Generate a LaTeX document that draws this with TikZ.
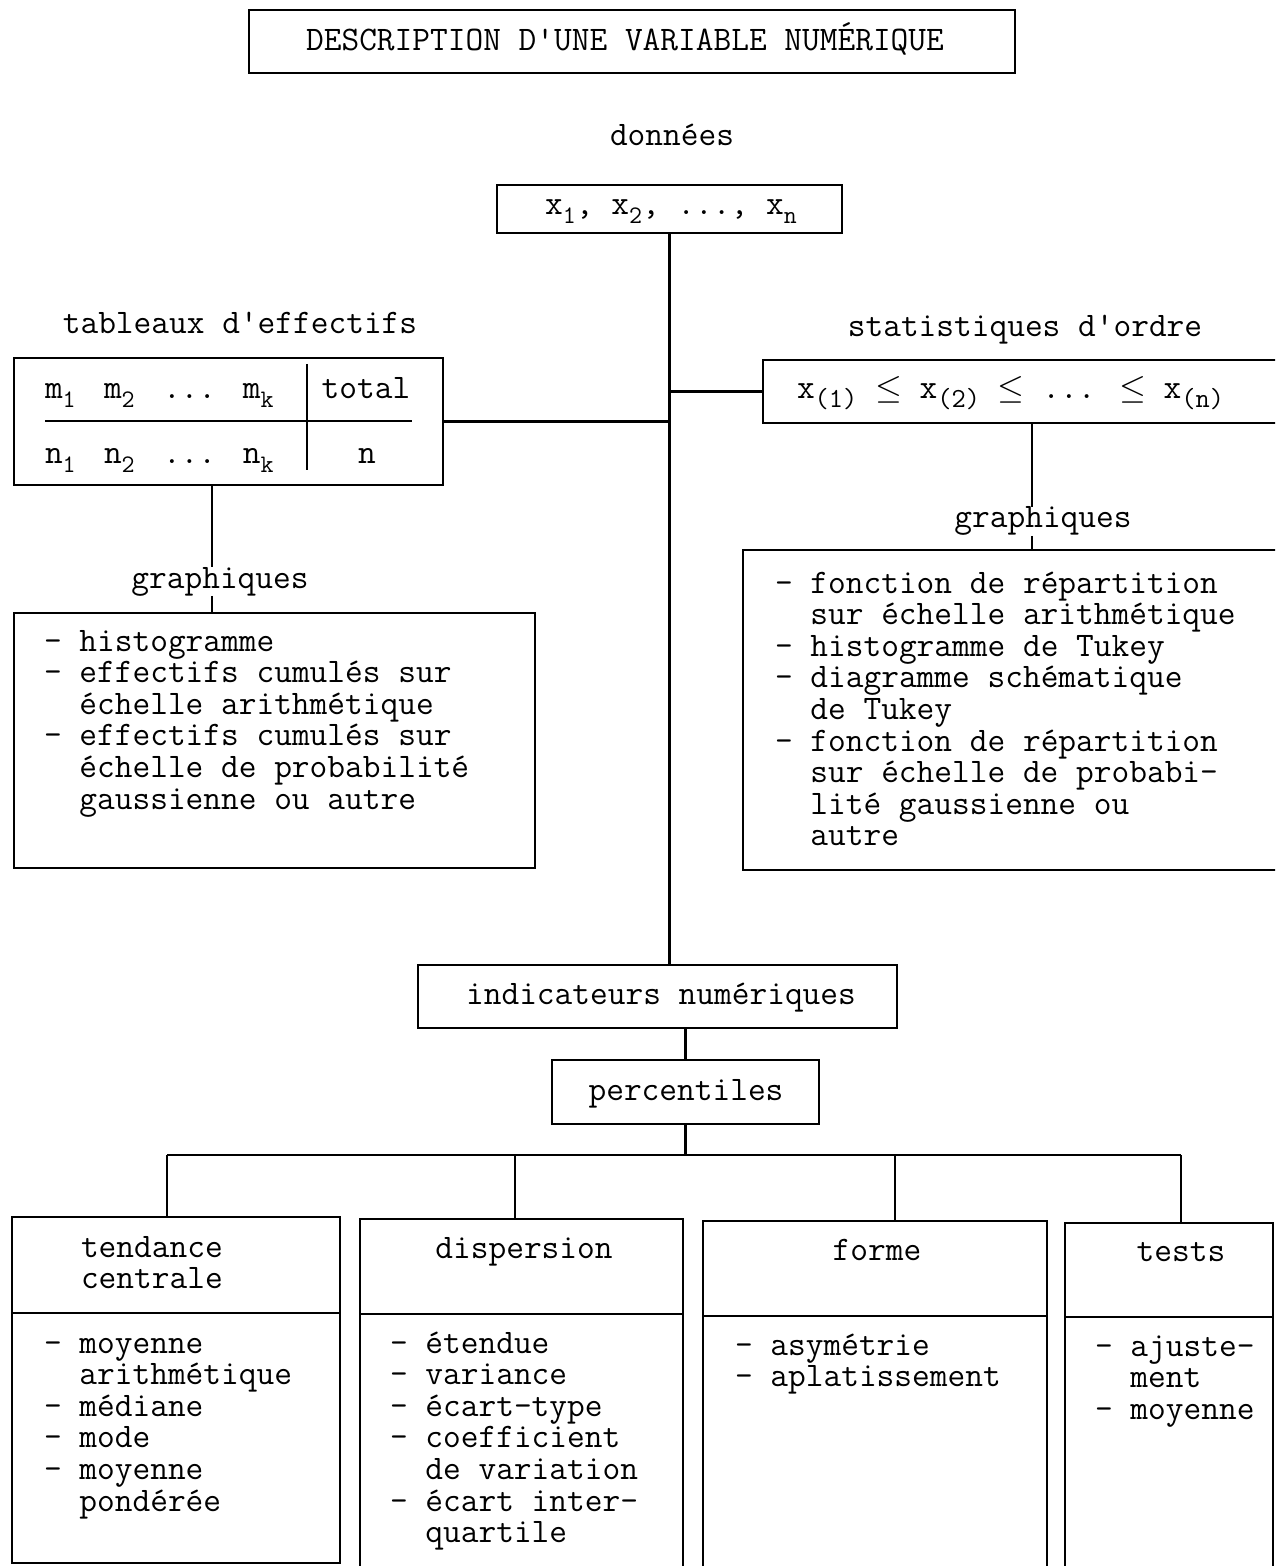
\documentclass[tikz,border=0pt]{standalone}
\newcommand\fs{\ttfamily\fontsize{17.2}{15.8}\selectfont}
\newcommand\subs[1]{\raisebox{-0.25em}{\fontsize{12.6}{12.6}\selectfont #1}}
\newcommand\subp[1]{\raisebox{-0.25em}{\fontsize{13.8}{13.8}\selectfont #1}}
\newcommand\lstbox[1]{\parbox[t]{12cm}{\fs\lineskiplimit=-20pt\raggedright #1}}
\newcommand\ind{\phantom{- }}
\begin{document}
\begin{tikzpicture}[x=0.5pt,y=-0.5pt, line width=1.2pt,
  bx/.style={draw, inner sep=0pt, outer sep=0pt},
  txt/.style={inner sep=0pt, outer sep=0pt, font=\fs, anchor=base},
  lst/.style={inner sep=0pt, outer sep=0pt, anchor=base west}]
\useasboundingbox (0,0) rectangle (1275,1566);
\clip (0,0) rectangle (1275,1566);

% boxes
\node[bx, minimum width=383pt, minimum height=31.5pt] (title) at (632,41.5) {};
\node[bx, minimum width=172.5pt, minimum height=24pt] (data) at (669.5,209) {};
\node[bx, minimum width=214.5pt, minimum height=63.5pt] (table) at (228.5,421.5) {};
\node[bx, minimum width=268.5pt, minimum height=31.5pt] (stats) at (1031.5,391.5) {};
\node[bx, minimum width=260.5pt, minimum height=127.5pt] (lgraph) at (274.5,740.5) {};
\node[bx, minimum width=278.5pt, minimum height=160pt] (rgraph) at (1021.5,710) {};
\node[bx, minimum width=239.5pt, minimum height=31.5pt] (ind) at (657.5,996.5) {};
\node[bx, minimum width=133.5pt, minimum height=32pt] (perc) at (685.5,1092) {};
\node[bx, minimum width=164pt, minimum height=173pt] (tend) at (176,1390) {};
\node[bx, minimum width=161.5pt, minimum height=190.5pt] (disp) at (521.5,1409.5) {};
\node[bx, minimum width=172pt, minimum height=189.5pt] (forme) at (875,1410.5) {};
\node[bx, minimum width=104pt, minimum height=188.5pt] (tests) at (1169,1411.5) {};

% dividers in the bottom boxes
\draw (tend.west |- 0,1313) -- (tend.east |- 0,1313);
\draw (disp.west |- 0,1314) -- (disp.east |- 0,1314);
\draw (forme.west |- 0,1316) -- (forme.east |- 0,1316);
\draw (tests.west |- 0,1317) -- (tests.east |- 0,1317);

% table interior
\draw (45,421) -- (412,421);
\draw (307,364) -- (307,470);

% texts
\node[txt] (ttitle) at (625,51) {DESCRIPTION D'UNE VARIABLE NUMÉRIQUE};
\node[txt] (ldon) at (672,146) {données};
\node[txt] (tdata) at (671,215) {x\subs{1}, x\subs{2}, ..., x\subs{n}};
\node[txt] (ltab) at (240,334) {tableaux d'effectifs};
\node[txt] (lstat) at (1025,337) {statistiques d'ordre};
\node[txt, anchor=base west] (r1) at (45,399) {\makebox[29.5pt][l]{m\subs{1}}\makebox[29.5pt][l]{m\subs{2}}\makebox[40pt][l]{...}m\subs{k}};
\node[txt, anchor=base west] (r2) at (45,464) {\makebox[29.5pt][l]{n\subs{1}}\makebox[29.5pt][l]{n\subs{2}}\makebox[40pt][l]{...}n\subs{k}};
\node[txt] (ttot) at (366,399) {total};
\node[txt] (tn) at (367,464) {n};
\node[txt, anchor=base west] (tstat) at (797,399) {x\subp{(1)} $\leq$ x\subp{(2)} $\leq$ ... $\leq$ x\subp{(n)}};
\node[txt] (lgl) at (220,588) {graphiques};
\node[txt] (rgl) at (1043,528) {graphiques};
\node[txt] (tind) at (661,1004) {indicateurs numériques};
\node[txt] (tperc) at (686,1100) {percentiles};

\node[lst] (llist) at (44,651) {\lstbox{- histogramme\\- effectifs cumulés sur\\\ind échelle arithmétique\\- effectifs cumulés sur\\\ind échelle de probabilité\\\ind gaussienne ou autre}};
\node[lst] (rlist) at (775,593) {\lstbox{- fonction de répartition\\\ind sur échelle arithmétique\\- histogramme de Tukey\\- diagramme schématique\\\ind de Tukey\\- fonction de répartition\\\ind sur échelle de probabi-\\\ind lité gaussienne ou\\\ind autre}};

\node[lst] (htend) at (81,1257) {\lstbox{tendance\\centrale}};
\node[txt] (hdisp) at (524,1258) {dispersion};
\node[txt] (hforme) at (877,1260) {forme};
\node[txt] (htests) at (1181,1261) {tests};

\node[lst] (ltend) at (44,1353) {\lstbox{- moyenne\\\ind arithmétique\\- médiane\\- mode\\- moyenne\\\ind pondérée}};
\node[lst] (ldisp) at (390,1353) {\lstbox{- étendue\\- variance\\- écart-type\\- coefficient\\\ind de variation\\- écart inter-\\\ind quartile}};
\node[lst] (lforme) at (735,1355) {\lstbox{- asymétrie\\- aplatissement}};
\node[lst] (ltests) at (1095,1356) {\lstbox{- ajuste-\\\ind ment\\- moyenne}};

% connectors
\coordinate (lt) at (212,0);
\coordinate (rt) at (1032,0);
\draw (data.south) -- (data.south |- ind.north);
\draw (table.east) -- (table.east -| data.south);
\draw (stats.west) -- (stats.west -| data.south);
\draw (table.south -| lt) -- (lgl.north -| lt);
\draw (lgl.south -| lt) -- (lgraph.north -| lt);
\draw (stats.south -| rt) -- (rgl.north -| rt);
\draw (rgl.south -| rt) -- (rgraph.north -| rt);
\draw (ind.south -| perc.north) -- (perc.north);
\coordinate (d1) at (167,1155);
\coordinate (d2) at (515,1155);
\coordinate (d3) at (895,1155);
\coordinate (d4) at (1181,1155);
\draw (perc.south) -- (perc.south |- d1);
\draw (d1) -- (d4);
\draw (d1) -- (tend.north -| d1);
\draw (d2) -- (disp.north -| d2);
\draw (d3) -- (forme.north -| d3);
\draw (d4) -- (tests.north -| d4);
\end{tikzpicture}
\end{document}
